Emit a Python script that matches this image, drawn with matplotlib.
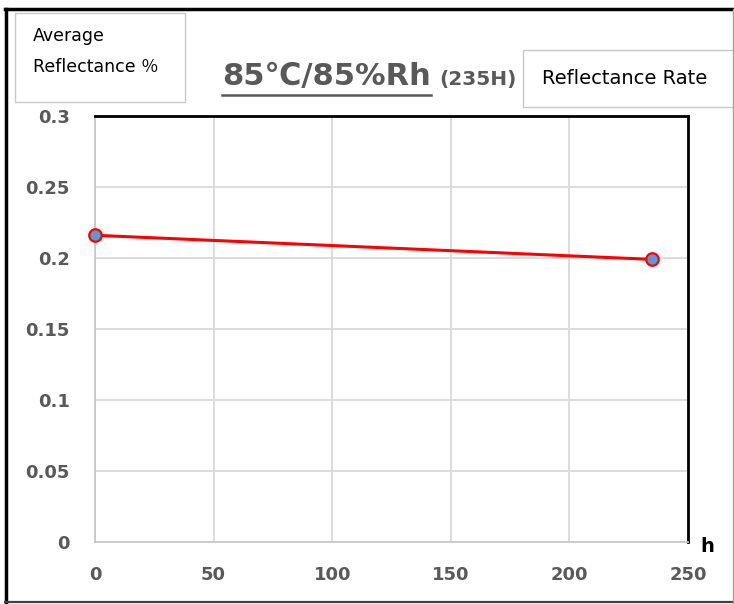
import matplotlib
matplotlib.use("Agg")
import matplotlib.pyplot as plt
from matplotlib.patches import Rectangle
from matplotlib.lines import Line2D

hours = [0, 235]
reflectance = [0.216, 0.199]
x_ticks = [0, 50, 100, 150, 200, 250]
y_ticks = [0, 0.05, 0.1, 0.15, 0.2, 0.25, 0.3]
y_tick_labels = ["0", "0.05", "0.1", "0.15", "0.2", "0.25", "0.3"]

plt.rcParams['font.family'] = ['DejaVu Sans', 'Noto Sans CJK JP']

W, H = 734, 604
fig = plt.figure(figsize=(W / 100, H / 100), dpi=100)

def fx(px):
    return px / W

def fy(py):
    return 1 - py / H

ax = fig.add_axes([fx(95), fy(542), fx(688) - fx(95), fy(116) - fy(542)])
ax.plot(hours, reflectance, color='#ff0000', lw=2.2, marker='o', ms=9,
        mfc='#5b9bd5', mec='#ff0000', mew=1.6, zorder=5, clip_on=False)
ax.set_xlim(0, 250)
ax.set_ylim(0, 0.3)
ax.set_xticks(x_ticks)
ax.set_yticks(y_ticks)
ax.set_yticklabels(y_tick_labels)
ax.grid(True, color='#d9d9d9', lw=1.3)
ax.set_axisbelow(True)
for s in ['top', 'right']:
    ax.spines[s].set_color('black')
    ax.spines[s].set_linewidth(2)
for s in ['left', 'bottom']:
    ax.spines[s].set_color('#c8c8c8')
    ax.spines[s].set_linewidth(1.3)
ax.tick_params(length=0, labelsize=13, labelcolor='#595959')
ax.tick_params(axis='x', pad=17)
ax.tick_params(axis='y', pad=18)
for lab in ax.get_xticklabels() + ax.get_yticklabels():
    lab.set_fontweight('bold')

# outer frame
fig.add_artist(Line2D([fx(6), fx(6)], [fy(9), fy(603)], transform=fig.transFigure,
                      color='black', lw=2.5))
fig.add_artist(Line2D([fx(5), fx(734)], [fy(9), fy(9)], transform=fig.transFigure,
                      color='black', lw=2.5))
fig.add_artist(Line2D([fx(5), fx(734)], [fy(602), fy(602)], transform=fig.transFigure,
                      color='#404040', lw=1.6))
fig.add_artist(Line2D([fx(732.5), fx(732.5)], [fy(9), fy(603)], transform=fig.transFigure,
                      color='#a0a0a0', lw=1))

# Average Reflectance box
fig.patches.append(Rectangle((fx(15), fy(102)), fx(185) - fx(15), fy(13) - fy(102),
                             transform=fig.transFigure, fill=True, facecolor='white',
                             edgecolor='#c8c8c8', lw=1))
fig.text(fx(33), fy(36), "Average", fontsize=12.5, color='black', va='center', ha='left')
fig.text(fx(33), fy(67), "Reflectance ％", fontsize=12.5, color='black', va='center', ha='left')

# Reflectance Rate box
fig.patches.append(Rectangle((fx(523), fy(107)), fx(740) - fx(523), fy(50) - fy(107),
                             transform=fig.transFigure, fill=True, facecolor='white',
                             edgecolor='#c8c8c8', lw=1, clip_on=False))
fig.text(fx(542), fy(78), "Reflectance Rate", fontsize=14, color='black', va='center', ha='left')

# Title
t = fig.text(fx(222), fy(76), "85℃/85%Rh", fontsize=22, fontweight='bold', color='#595959',
             va='center', ha='left')
fig.canvas.draw()
bb = t.get_window_extent()
fig.add_artist(Line2D([bb.x0 / W, bb.x1 / W], [fy(95), fy(95)],
                      transform=fig.transFigure, color='#595959', lw=1.8))
fig.text(fx(439), fy(79), "(235H)", fontsize=14.5, fontweight='bold', color='#595959',
         va='center', ha='left')

fig.text(fx(707), fy(547), "h", fontsize=14, fontweight='bold', color='black',
         va='center', ha='center')

fig.savefig("out.png", dpi=100)
